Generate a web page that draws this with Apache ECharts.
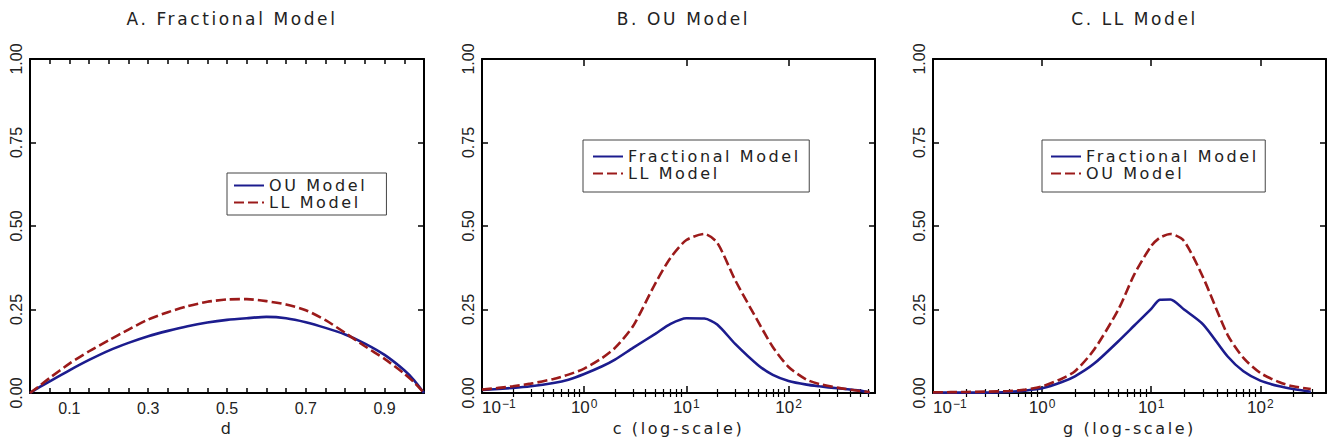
<!DOCTYPE html>
<html><head><meta charset="utf-8">
<script src="https://cdn.jsdelivr.net/npm/echarts@6/dist/echarts.min.js"></script>
<style>
html,body{margin:0;padding:0;background:#fff;}
#chart{width:1329px;height:445px;}
#chart text[style*="DejaVu"]{letter-spacing:2.6px;}
</style></head>
<body><div id="chart"></div>
<script>
// ---------- Data ----------
// Panel A: Fractional Model (x = d)
const dValues = [0,0.025,0.05,0.1,0.15,0.2,0.25,0.3,0.35,0.4,0.45,0.5,0.55,0.6,0.65,0.7,0.75,0.8,0.85,0.9,0.95,0.975,1];
const fracOU  = [0,0.018,0.035,0.068,0.099,0.127,0.15,0.17,0.186,0.2,0.211,0.219,0.224,0.228,0.224,0.212,0.195,0.175,0.148,0.114,0.068,0.038,0];
const fracLL  = [0,0.022,0.045,0.088,0.125,0.158,0.19,0.22,0.242,0.26,0.273,0.28,0.281,0.275,0.265,0.248,0.218,0.18,0.14,0.102,0.058,0.032,0];
// Panel B: OU Model (x = c, log scale)
const cValues = [0.1,0.2,0.3,0.5,0.7,1,1.5,2,3,5,7,10,15,20,30,50,70,100,150,200,300,500,620];
const ouFrac  = [0.009,0.015,0.02,0.03,0.04,0.057,0.08,0.1,0.135,0.178,0.207,0.224,0.223,0.205,0.147,0.084,0.054,0.036,0.025,0.02,0.014,0.007,0.001];
const ouLL    = [0.01,0.02,0.028,0.042,0.055,0.073,0.105,0.135,0.2,0.33,0.405,0.458,0.476,0.45,0.338,0.215,0.138,0.078,0.04,0.027,0.016,0.006,0.003];
// Panel C: LL Model (x = g, log scale)
const gValues = [0.1,0.2,0.3,0.5,0.7,1,1.5,2,3,5,7,10,12,15,20,30,50,70,100,150,200,290];
const llFrac  = [0.001,0.001,0.001,0.003,0.007,0.014,0.032,0.05,0.088,0.155,0.202,0.252,0.279,0.28,0.25,0.205,0.11,0.065,0.037,0.02,0.012,0.004];
const llOU    = [0.002,0.003,0.004,0.006,0.01,0.02,0.042,0.065,0.13,0.25,0.355,0.44,0.465,0.476,0.455,0.345,0.175,0.105,0.06,0.032,0.02,0.012];

const titles = ['A. Fractional Model','B. OU Model','C. LL Model'];
const xNames = ['d','c (log-scale)','g (log-scale)'];
const yTickValues = [0,0.25,0.5,0.75,1];
const dLabelValues = [0.1,0.3,0.5,0.7,0.9];
const logLabelValues = [0.1,1,10,100];
const legendA = ['OU Model','LL Model'];
const legendB = ['Fractional Model','LL Model'];
const legendC = ['Fractional Model','OU Model'];

// ---------- Layout / style ----------
const BLUE = '#1c1c8e', RED = '#9b1a1a', INK = '#222';
const WORD_FONT = 'DejaVu Sans', NUM_FONT = 'Liberation Sans';
const grids = [
  {left:30, top:59, width:394, height:334},
  {left:482, top:59, width:393, height:334},
  {left:933, top:59, width:393, height:334}
];
const dTicks = []; for (let i = 1; i < 20; i++) dTicks.push(+(i*0.05).toFixed(2));
function logMinor(maxV){ const a=[]; for (let e=-1;e<=2;e++) for (let k=2;k<=9;k++){ const v=+(k*Math.pow(10,e)).toPrecision(3); if (v<maxV) a.push(v);} return a; }
const supMap = {'-1':'\u22121','0':'0','1':'1','2':'2'};
const logFmt = v => '{b|10}{s|' + supMap[String(Math.round(Math.log10(v)))] + '}';
const logRich = {
  b:{fontSize:17, fontFamily:NUM_FONT, color:INK, verticalAlign:'bottom'},
  s:{fontSize:12, fontFamily:NUM_FONT, color:INK, verticalAlign:'bottom', padding:[0,0,6,1]}
};
const line = {lineStyle:{color:'#000', width:2}};
function xAxisBase(g, pos, extra){
  return Object.assign({gridIndex:g, position:pos, axisLine:Object.assign({show:true, onZero:false}, line),
    splitLine:{show:false}, axisLabel:{show:false}, axisTick:{show:false}}, extra);
}
const xAxes = [];
// Panel A
xAxes.push(xAxisBase(0,'bottom',{type:'value', min:0, max:1,
  axisTick:{show:true, inside:true, length:5, customValues:dTicks, lineStyle:{color:'#000', width:1.5}},
  axisLabel:{show:true, customValues:dLabelValues, margin:7, fontSize:16, fontFamily:NUM_FONT, color:INK, formatter:v=>v.toFixed(1)},
  name:xNames[0], nameLocation:'middle', nameGap:26, nameTextStyle:{fontSize:16, fontFamily:WORD_FONT, color:INK}}));
xAxes.push(xAxisBase(0,'top',{type:'value', min:0, max:1,
  axisTick:{show:true, inside:true, length:5, customValues:dTicks, lineStyle:{color:'#000', width:1.5}}}));
// Panels B, C
[[1,700,xNames[1]],[2,400,xNames[2]]].forEach(([g,maxV,nm])=>{
  const minor = logMinor(maxV);
  xAxes.push(xAxisBase(g,'bottom',{type:'log', logBase:10, min:0.1, max:maxV,
    axisTick:{show:true, inside:true, length:7, customValues:logLabelValues, lineStyle:{color:'#000', width:1.5}},
    axisLabel:{show:true, customValues:logLabelValues, margin:5, alignMinLabel:'left', formatter:logFmt, rich:logRich},
    name:nm, nameLocation:'middle', nameGap:26, nameTextStyle:{fontSize:16, fontFamily:WORD_FONT, color:INK}}));
  xAxes.push(xAxisBase(g,'bottom',{type:'log', logBase:10, min:0.1, max:maxV, axisLine:{show:false},
    axisTick:{show:true, inside:true, length:4, customValues:minor, lineStyle:{color:'#000', width:1.2}}}));
  xAxes.push(xAxisBase(g,'top',{type:'log', logBase:10, min:0.1, max:maxV,
    axisTick:{show:true, inside:true, length:7, customValues:logLabelValues, lineStyle:{color:'#000', width:1.5}}}));
  xAxes.push(xAxisBase(g,'top',{type:'log', logBase:10, min:0.1, max:maxV, axisLine:{show:false},
    axisTick:{show:true, inside:true, length:4, customValues:minor, lineStyle:{color:'#000', width:1.2}}}));
});
const yAxes = [];
[0,1,2].forEach(g=>{
  yAxes.push({type:'value', gridIndex:g, position:'left', min:0, max:1, interval:0.25,
    axisLine:Object.assign({show:true, onZero:false}, line), splitLine:{show:false},
    axisTick:{show:true, inside:true, length:6, lineStyle:{color:'#000', width:1.5}},
    axisLabel:{show:true, rotate:90, margin:6, fontSize:16, fontFamily:NUM_FONT, color:INK, formatter:v=>v.toFixed(2)}});
  yAxes.push({type:'value', gridIndex:g, position:'right', min:0, max:1, interval:0.25,
    axisLine:Object.assign({show:true, onZero:false}, line), splitLine:{show:false},
    axisTick:{show:true, inside:true, length:6, lineStyle:{color:'#000', width:1.5}},
    axisLabel:{show:false}});
});

function mk(name, xs, ys, xi, yi, color, dashed){
  return {type:'line', name:name, xAxisIndex:xi, yAxisIndex:yi, symbol:'none', smooth:0.25,
    data: xs.map((x,i)=>[x, ys[i]]),
    lineStyle:{color:color, width:2.6, type: dashed ? [10,4] : 'solid'},
    itemStyle:{color:color}, emphasis:{disabled:true}};
}
const series = [
  mk('A|'+legendA[0], dValues, fracOU, 0, 0, BLUE, false),
  mk('A|'+legendA[1], dValues, fracLL, 0, 0, RED, true),
  mk('B|'+legendB[0], cValues, ouFrac, 2, 2, BLUE, false),
  mk('B|'+legendB[1], cValues, ouLL, 2, 2, RED, true),
  mk('C|'+legendC[0], gValues, llFrac, 6, 4, BLUE, false),
  mk('C|'+legendC[1], gValues, llOU, 6, 4, RED, true)
];
function legend(prefix, names, left, top, padding){
  return {orient:'vertical', left:left, top:top, padding:padding, itemGap:0, itemWidth:30, itemHeight:14,
    borderColor:'#444', borderWidth:1, selectedMode:false,
    itemStyle:{opacity:0},
    data: names.map(n=>prefix+'|'+n),
    formatter: n=>n.split('|')[1],
    textStyle:{fontSize:16, fontFamily:WORD_FONT, color:INK, lineHeight:17}};
}
const option = {
  animation:false,
  backgroundColor:'#fff',
  title: titles.map((t,i)=>({text:t, left:grids[i].left+grids[i].width/2, top:5, textAlign:'center',
    textStyle:{fontSize:17, fontWeight:'normal', fontFamily:WORD_FONT, color:INK}})),
  grid: grids,
  xAxis: xAxes,
  yAxis: yAxes,
  legend: [
    legend('A', legendA, 227, 173, [4,40,4,6]),
    legend('B', legendB, 583, 140, [8,50,10,9]),
    legend('C', legendC, 1042, 140, [8,48,10,8])
  ],
  series: series
};
const chart = echarts.init(document.getElementById('chart'), null, {renderer:'svg'});
chart.setOption(option);
</script>
</body></html>
